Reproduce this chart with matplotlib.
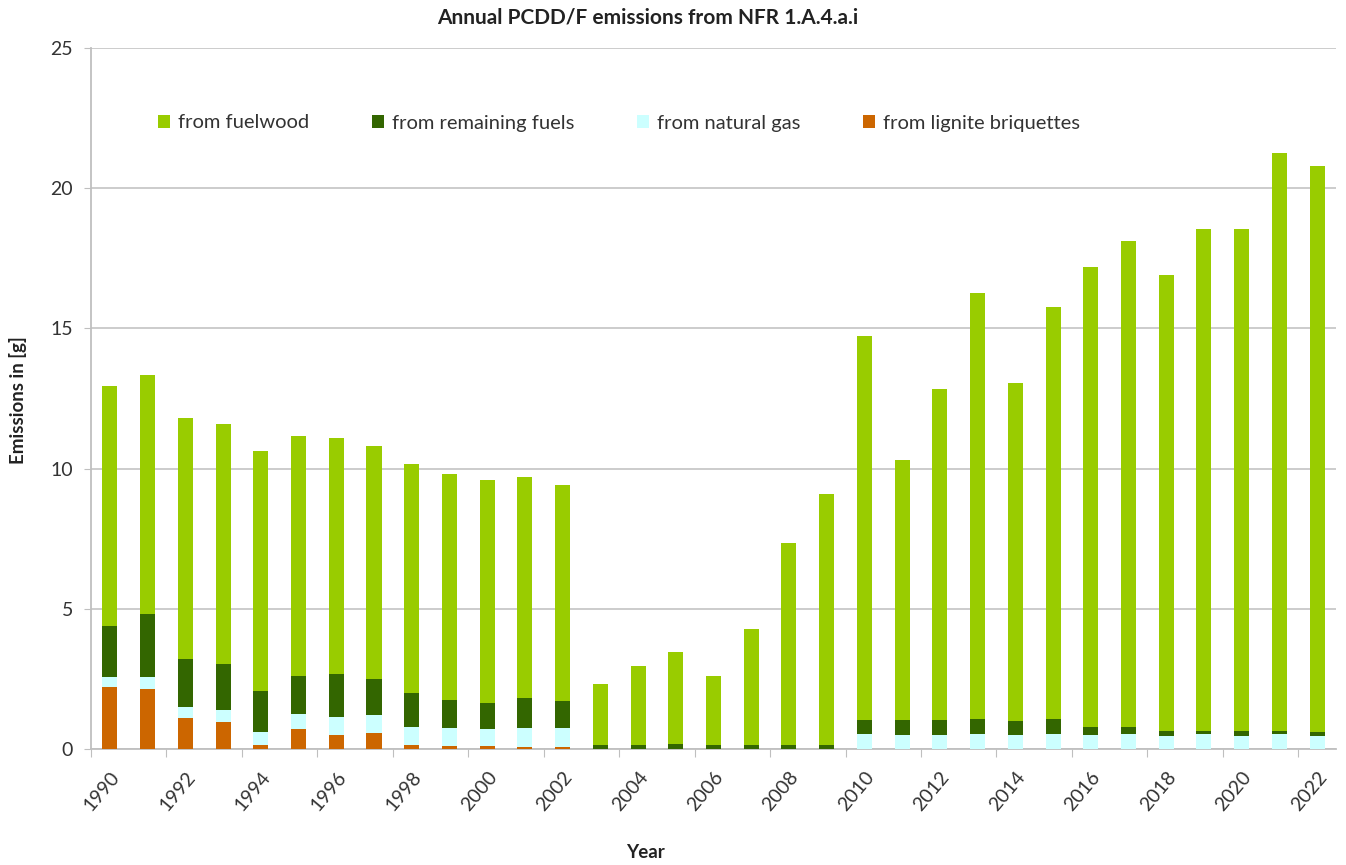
import numpy as np
import matplotlib
matplotlib.use("Agg")
import matplotlib.pyplot as plt

plt.rcParams['font.family'] = ['Lato', 'DejaVu Sans']

years = list(range(1990, 2023))

# emissions in g
lignite = [2.20, 2.14, 1.11, 0.96, 0.14, 0.71, 0.50, 0.56, 0.14, 0.12, 0.12, 0.07, 0.06,
           0, 0, 0, 0, 0, 0, 0,
           0, 0, 0, 0, 0, 0, 0, 0, 0, 0, 0, 0, 0]
natural_gas = [0.36, 0.42, 0.39, 0.43, 0.47, 0.54, 0.65, 0.64, 0.66, 0.62, 0.58, 0.67, 0.68,
               0, 0, 0, 0, 0, 0, 0,
               0.54, 0.51, 0.49, 0.54, 0.50, 0.54, 0.50, 0.54, 0.48, 0.52, 0.48, 0.52, 0.48]
remaining = [1.82, 2.24, 1.72, 1.65, 1.47, 1.36, 1.53, 1.31, 1.19, 0.99, 0.94, 1.08, 0.96,
             0.15, 0.15, 0.19, 0.15, 0.13, 0.13, 0.13,
             0.50, 0.53, 0.55, 0.53, 0.51, 0.53, 0.27, 0.26, 0.17, 0.13, 0.17, 0.13, 0.14]
fuelwood = [8.57, 8.55, 8.57, 8.56, 8.55, 8.54, 8.42, 8.29, 8.16, 8.07, 7.96, 7.88, 7.73,
            2.18, 2.82, 3.28, 2.44, 4.15, 7.20, 8.95,
            13.68, 9.28, 11.81, 15.20, 12.05, 14.70, 16.41, 17.32, 16.27, 17.89, 17.89, 20.60, 20.18]

series = [
    ("from fuelwood", fuelwood, "#99CC00"),
    ("from remaining fuels", remaining, "#336600"),
    ("from natural gas", natural_gas, "#CCFFFF"),
    ("from lignite briquettes", lignite, "#CC6600"),
]

W, H = 1346, 865
fig = plt.figure(figsize=(W / 100, H / 100), dpi=100)
ax = fig.add_axes([91 / W, 1 - 749 / H, (1336 - 91) / W, (749 - 48) / H])

x = np.arange(len(years))
bottom = np.zeros(len(years))
handles = {}
# stack from the bottom: lignite, gas, remaining, fuelwood
for name, vals, color in reversed(series):
    vals = np.array(vals)
    b = ax.bar(x, vals, width=0.4, bottom=bottom, color=color, label=name, zorder=3)
    handles[name] = b
    bottom += vals

ax.set_xlim(-0.5, len(years) - 0.5)
ax.set_ylim(0, 25)
ax.set_yticks(np.arange(0, 26, 5))
ax.yaxis.grid(True, color="#C8C8C8", linewidth=1.3, zorder=0)
ax.tick_params(axis='y', labelsize=14, length=5, color="#BFBFBF", labelcolor="#333333", pad=8)

# tick marks between category pairs, labels on every second year
ax.set_xticks(np.arange(-0.5, len(years), 2))
ax.set_xticklabels([])
ax.set_xticks(x[::2], minor=True)
ax.set_xticklabels([str(y) for y in years[::2]], minor=True, rotation=50,
                   ha='right', va='top', rotation_mode='anchor', fontsize=14, color="#333333")
ax.tick_params(axis='x', which='major', length=6, color="#BFBFBF")
ax.tick_params(axis='x', which='minor', length=0, pad=14)

for side in ['top', 'right']:
    ax.spines[side].set_visible(False)
for side in ['left', 'bottom']:
    ax.spines[side].set_color("#BFBFBF")
    ax.spines[side].set_linewidth(1.3)

order = [s[0] for s in series]
ax.legend([handles[n] for n in order], order, ncol=4, frameon=False, loc='center left',
          bbox_to_anchor=(150 / W, 1 - 123 / H), bbox_transform=fig.transFigure,
          fontsize=14.5, handlelength=0.6, handleheight=0.6, handletextpad=0.4,
          columnspacing=3.1, borderaxespad=0, labelcolor="#333333")

fig.text(648 / W, 1 - 18 / H, "Annual PCDD/F emissions from NFR 1.A.4.a.i", ha='center',
         va='center', fontsize=15, fontweight='bold', color="#222222")
fig.text(18 / W, 1 - 400 / H, "Emissions in [g]", rotation=90, ha='center', va='center',
         fontsize=13.5, fontweight='bold', color="#222222")
fig.text(645 / W, 1 - 852 / H, "Year", ha='center', va='center', fontsize=13.5,
         fontweight='bold', color="#222222")

fig.savefig("out.png", dpi=100)
